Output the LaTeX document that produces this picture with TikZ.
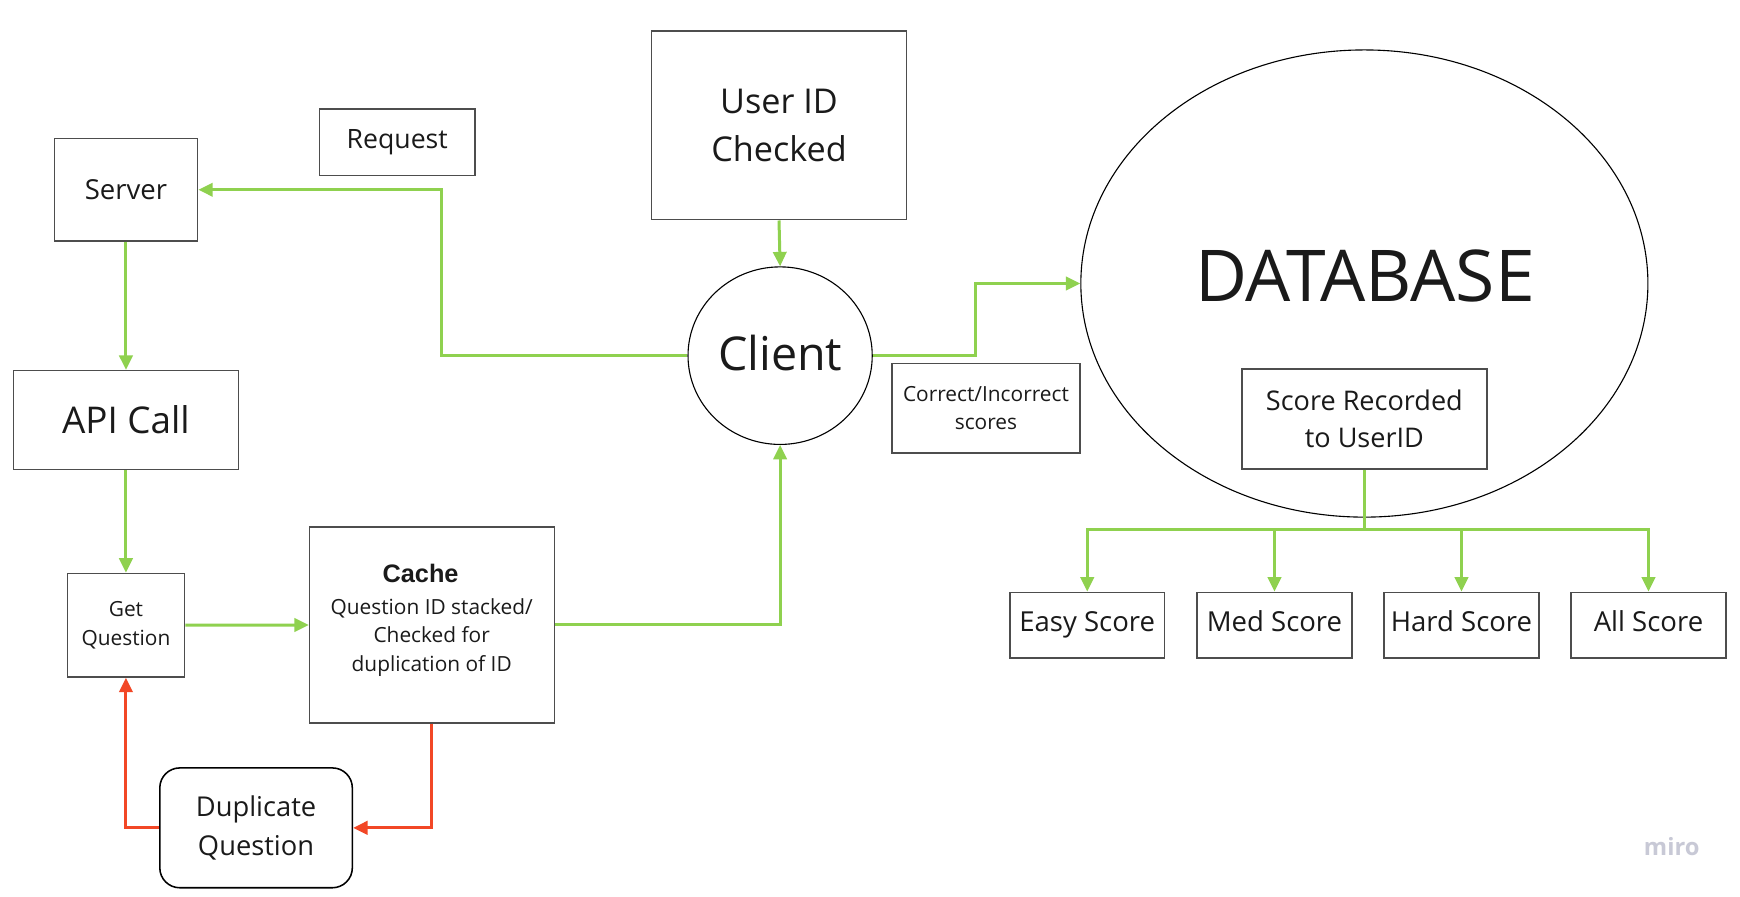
\documentclass[tikz,border=0pt]{standalone}
\usepackage{fontspec}
\setmainfont{Open Sans}
\newfontfamily\arialfont{Liberation Sans}
\usetikzlibrary{arrows.meta,shapes.geometric,calc}
\definecolor{mgreen}{HTML}{8FD14F}
\definecolor{mred}{HTML}{F24726}
\definecolor{mborder}{HTML}{4D4D4D}
\definecolor{mtext}{HTML}{1A1A1A}
\definecolor{mlogo}{HTML}{C8C9D6}
\tikzset{
  box/.style={draw=mborder, line width=0.7pt, rectangle, inner sep=0pt, align=center, text=mtext},
  roundbox/.style={box, rounded corners=9pt},
  oval/.style={draw=black, line width=0.5pt, ellipse, inner sep=0pt},
  garrow/.style={draw=mgreen, line width=1.35pt, -{Triangle[length=6.5pt,width=6pt]}},
  gline/.style={draw=mgreen, line width=1.35pt},
  rarrow/.style={draw=mred, line width=1.35pt, -{Triangle[length=6.5pt,width=6pt]}},
  fs/.style n args={2}{font=\fontsize{#1}{#2}\selectfont},
  scorebox/.style={box, minimum width=70pt, minimum height=29.6pt, fs={12.4}{16}, text height=9pt, text depth=3pt}
}
\begin{document}
\begin{tikzpicture}[x=0.5pt,y=-0.5pt]
\useasboundingbox (0,0) rectangle (1568,808);
\fill[white] (0,0) rectangle (1568,808);

% nodes
\node[box, minimum width=64.5pt, minimum height=46pt, fs={12.4}{16}] (server) at (113.5,171) {Server};
\node[box, minimum width=70pt, minimum height=30pt, fs={12}{16}] (request) at (358,128) {Request};
\node[box, minimum width=115pt, minimum height=85pt, fs={15.4}{21.75}] (userid) at (702,113) {User ID\\Checked};
\node[oval, minimum width=83pt, minimum height=80pt, fs={21}{26}, text=mtext, text depth=3pt] (client) at (703,320.5) {Client};
\node[box, minimum width=101.5pt, minimum height=44.5pt, fs={16.6}{20}] (api) at (113.5,378.5) {API Call};
\node[box, minimum width=52.75pt, minimum height=46.65pt, fs={9.4}{12.8}] (getq) at (113.5,563.4) {Get\\Question};
\node[box, minimum width=110.25pt, minimum height=88.2pt] (cache) at (389.25,563.2) {};
\node[text=mtext, fs={11.4}{14}, anchor=base] (cachetitle) at (379,525) {\arialfont\bfseries Cache};
\node[text=mtext, fs={9.4}{12.75}, align=center] (cachebody) at (389,574.5) {Question ID stacked/\\Checked for\\duplication of ID};
\node[roundbox, draw=black, minimum width=86.75pt, minimum height=54pt, fs={12.3}{17.5}] (dup) at (230.75,746) {Duplicate\\Question};
\node[box, minimum width=84.5pt, minimum height=40.4pt, fs={9.4}{12.75}] (correct) at (888.5,368) {Correct/Incorrect\\scores};
\node[oval, minimum width=255.5pt, minimum height=210.5pt] (db) at (1229.5,255.5) {};
\node[text=mtext, fs={32.2}{36}, anchor=base] (dbtext) at (1230,271.5) {DATABASE};
\node[box, minimum width=110.5pt, minimum height=45.2pt, fs={12.2}{16.5}] (score) at (1229.5,377.5) {Score Recorded\\to UserID};
\node[scorebox, minimum width=69.75pt] (easy) at (979.75,563.4) {Easy Score};
\node[scorebox] (med) at (1148.5,563.4) {Med Score};
\node[scorebox] (hard) at (1317,563.4) {Hard Score};
\node[scorebox] (all) at (1485.5,563.4) {All Score};
\node[text=mlogo, fs={10.7}{13}, anchor=base] (miro) at (1506.5,771) {\bfseries miro};

% connectors
\draw[garrow] (client.west) -- ++(-222,0) |- (server.east);
\draw[garrow] (userid.south) -- (client.north);
\draw[garrow] (server.south) -- (api.north);
\draw[garrow] (api.south) -- (getq.north);
\draw[garrow] (getq.east) -- (cache.west);
\draw[garrow] (cache.east) -| (client.south);
\draw[garrow] (client.east) -- ++(93,0) |- (db.west);
\draw[rarrow] (cache.south) |- (dup.east);
\draw[rarrow] (dup.west) -| (getq.south);
\coordinate (bus) at ($(score.south)+(0,54)$);
\draw[gline] (score.south) -- (bus);
\draw[garrow] (bus) -| (easy.north);
\draw[garrow] (bus) -| (med.north);
\draw[garrow] (bus) -| (hard.north);
\draw[garrow] (bus) -| (all.north);
\end{tikzpicture}
\end{document}
